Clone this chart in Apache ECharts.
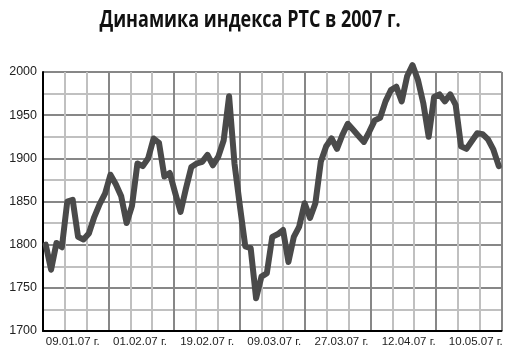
<!DOCTYPE html>
<html>
<head>
<meta charset="utf-8">
<script src="https://cdn.jsdelivr.net/npm/echarts@6/dist/echarts.min.js"></script>
<style>
html,body{margin:0;padding:0;background:#fff;}
#chart{width:517px;height:358px;}
</style>
</head>
<body>
<div id="chart"></div>
<script>
const titleText = 'Динамика индекса РТС в 2007 г.';
const tickLabels = ['09.01.07 г.', '01.02.07 г.', '19.02.07 г.', '09.03.07 г.', '27.03.07 г.', '12.04.07 г.', '10.05.07 г.'];
const values = [
  1800, 1771, 1802, 1797, 1850, 1852, 1809, 1806, 1813, 1832,
  1847, 1859, 1881, 1870, 1856, 1825, 1845, 1894, 1891, 1900,
  1923, 1918, 1879, 1883, 1860, 1838, 1865, 1890, 1894, 1896,
  1904, 1892, 1902, 1921, 1972, 1894, 1845, 1798, 1796, 1738,
  1763, 1767, 1809, 1812, 1817, 1780, 1809, 1821, 1848, 1831,
  1848, 1896, 1914, 1923, 1911, 1927, 1940, 1933, 1926, 1919,
  1931, 1944, 1947, 1966, 1979, 1983, 1966, 1995, 2008, 1991,
  1964, 1925, 1971, 1974, 1966, 1974, 1962, 1914, 1911, 1920,
  1929, 1928, 1922, 1910, 1891
];
const days = values.map((v, i) => String(i + 1));
const yMin = 1700, yMax = 2000, yStep = 25, yLabelStep = 50;
const columns = 21;

const labelFont = '"Liberation Sans", Arial, sans-serif';
const chart = echarts.init(document.getElementById('chart'), null, {renderer: 'canvas'});
const gridTop = 72, gridH = 259;
const minorColor = '#c0c0c0', majorColor = '#878787';
chart.setOption({
  animation: false,
  backgroundColor: '#fff',
  graphic: [{
    type: 'text',
    x: 250, y: 20,
    scaleX: 0.75,
    style: {
      text: titleText,
      font: 'bold 24px "Open Sans"',
      fill: '#111',
      align: 'center',
      verticalAlign: 'middle'
    }
  }],
  grid: [
    {left: 43, top: gridTop, width: 458.5, height: gridH},
    {left: 39.2, top: gridTop, width: 470.2, height: gridH}
  ],
  xAxis: [
    {
      type: 'category', gridIndex: 0, data: days, boundaryGap: true,
      axisLine: {show: false}, axisTick: {show: false}, axisLabel: {show: false}, splitLine: {show: false}
    },
    {
      type: 'value', gridIndex: 0, min: 0, max: columns, interval: 1, position: 'bottom',
      axisLine: {show: true, onZero: false, lineStyle: {color: '#000', width: 2}},
      axisTick: {show: false}, axisLabel: {show: false},
      splitLine: {show: true, showMinLine: true, showMaxLine: true, lineStyle: {color: minorColor, width: 2}}
    },
    {
      type: 'category', gridIndex: 1, data: tickLabels, boundaryGap: true,
      axisLine: {show: false}, axisTick: {show: false}, splitLine: {show: false},
      axisLabel: {show: true, interval: 0, margin: 5, color: '#222', fontFamily: labelFont, fontSize: 11.5}
    },
    {
      type: 'value', gridIndex: 0, min: 0, max: columns, interval: 3, position: 'bottom',
      axisLine: {show: false}, axisTick: {show: false}, axisLabel: {show: false},
      splitLine: {show: true, showMinLine: true, showMaxLine: true, lineStyle: {color: majorColor, width: 2}}
    }
  ],
  yAxis: [
    {
      type: 'value', gridIndex: 0, min: yMin, max: yMax, interval: yStep,
      axisLine: {show: true, onZero: false, lineStyle: {color: '#000', width: 2}},
      axisTick: {show: false},
      axisLabel: {show: false},
      splitLine: {show: true, showMinLine: true, showMaxLine: true, lineStyle: {color: minorColor, width: 2}}
    },
    {
      type: 'value', gridIndex: 1, min: yMin, max: yMax, show: false
    },
    {
      type: 'value', gridIndex: 0, min: yMin, max: yMax, interval: yLabelStep, position: 'left',
      axisLine: {show: false}, axisTick: {show: false},
      axisLabel: {margin: 6, color: '#222', fontFamily: labelFont, fontSize: 12.5, formatter: v => String(v)},
      splitLine: {show: true, showMinLine: true, showMaxLine: true, lineStyle: {color: majorColor, width: 2}}
    }
  ],
  series: [{
    type: 'line',
    xAxisIndex: 0, yAxisIndex: 0,
    data: values,
    symbol: 'none',
    clip: false,
    lineStyle: {color: '#4a4a4a', width: 6, join: 'round', cap: 'round'},
    z: 5
  }]
});
</script>
</body>
</html>
